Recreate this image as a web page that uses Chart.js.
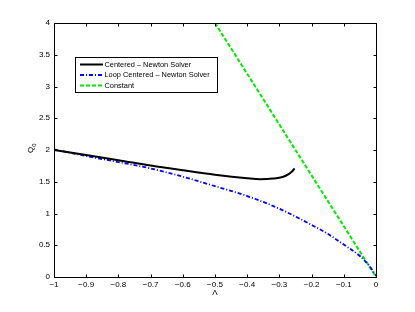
<!DOCTYPE html>
<html>
<head>
<meta charset="utf-8">
<script src="https://cdn.jsdelivr.net/npm/chart.js@4"></script>
<style>
  html, body { margin: 0; padding: 0; background: #fff; }
  #wrap { width: 415px; height: 312px; }
</style>
</head>
<body>
<div id="wrap"><canvas id="c" width="415" height="312"></canvas></div>
<script>
// values
const lambdaCentered = [-1, -0.9, -0.8, -0.7, -0.6, -0.5, -0.4, -0.36, -0.32, -0.29, -0.27, -0.26, -0.253];
const qCentered      = [2.0, 1.92, 1.84, 1.755, 1.68, 1.61, 1.555, 1.54, 1.55, 1.575, 1.625, 1.665, 1.71];

const lambdaLoop = [-1, -0.9, -0.8, -0.7, -0.6, -0.5, -0.4, -0.3, -0.2, -0.15, -0.1, -0.05, -0.02, 0];
const qLoop      = [2.01, 1.905, 1.81, 1.71, 1.58, 1.43, 1.275, 1.075, 0.82, 0.68, 0.51, 0.33, 0.17, 0.02];

const lambdaConst = [-0.5, 0];
const qConst      = [4, 0];

const seriesNames = ['Centered \u2013 Newton Solver', 'Loop Centered \u2013 Newton Solver', 'Constant'];

const FONT = 'Liberation Sans, Arial, sans-serif';

function pts(xs, ys) {
  return xs.map((x, i) => ({ x: x, y: ys[i] }));
}

function fmt(v) {
  const r = Math.round(v * 10) / 10;
  return String(r).replace('-', '\u2212');
}

// inward ticks on all four sides, box, legend and axis titles (matlab look)
const matlabAxes = {
  id: 'matlabAxes',
  afterDraw(chart) {
    const ctx = chart.ctx;
    const a = chart.chartArea;
    const xs = chart.scales.x;
    const ys = chart.scales.y;
    const L = Math.round(a.left) + 0.5, R = Math.round(a.right) + 0.5;
    const T = Math.round(a.top) + 0.5, B = Math.round(a.bottom) + 0.5;
    const tl = 3;

    ctx.save();
    ctx.strokeStyle = '#000';
    ctx.lineWidth = 1;
    ctx.beginPath();
    xs.ticks.forEach(t => {
      const p = Math.round(xs.getPixelForValue(t.value)) + 0.5;
      ctx.moveTo(p, B); ctx.lineTo(p, B - tl);
      ctx.moveTo(p, T); ctx.lineTo(p, T + tl);
    });
    ys.ticks.forEach(t => {
      const p = Math.round(ys.getPixelForValue(t.value)) + 0.5;
      ctx.moveTo(L, p); ctx.lineTo(L + tl, p);
      ctx.moveTo(R, p); ctx.lineTo(R - tl, p);
    });
    ctx.stroke();
    ctx.strokeRect(L, T, R - L, B - T);

    // legend
    const lx = 75.5, ly = 57.5, lw = 142, lh = 35;
    ctx.fillStyle = '#fff';
    ctx.fillRect(lx, ly, lw, lh);
    ctx.strokeStyle = '#000';
    ctx.strokeRect(lx, ly, lw, lh);
    const rows = [64.5, 75, 85.5];
    chart.data.datasets.forEach((ds, i) => {
      ctx.save();
      ctx.strokeStyle = ds.borderColor;
      ctx.lineWidth = ds.borderWidth;
      ctx.setLineDash(ds.borderDash || []);
      ctx.beginPath();
      ctx.moveTo(80, rows[i]);
      ctx.lineTo(103, rows[i]);
      ctx.stroke();
      ctx.restore();
      ctx.fillStyle = '#000';
      ctx.font = '7.4px ' + FONT;
      ctx.textBaseline = 'middle';
      ctx.textAlign = 'left';
      ctx.fillText(ds.label, 104.5, rows[i]);
    });

    // axis titles
    ctx.fillStyle = '#000';
    ctx.font = '8px ' + FONT;
    ctx.textAlign = 'center';
    ctx.textBaseline = 'middle';
    ctx.fillText('\u039B', (a.left + a.right) / 2, 293);

    ctx.translate(31, 150);
    ctx.rotate(-Math.PI / 2);
    ctx.fillText('Q', 0, 0);
    ctx.font = '6px ' + FONT;
    ctx.fillText('0', 5, 3);
    ctx.restore();
  }
};

new Chart(document.getElementById('c'), {
  type: 'line',
  data: {
    datasets: [
      {
        label: seriesNames[0],
        data: pts(lambdaCentered, qCentered),
        borderColor: '#000000',
        borderWidth: 2,
        pointRadius: 0,
        cubicInterpolationMode: 'monotone',
        fill: false,
      },
      {
        label: seriesNames[1],
        data: pts(lambdaLoop, qLoop),
        borderColor: '#0000ff',
        borderWidth: 1.8,
        borderDash: [4, 2, 1, 2],
        pointRadius: 0,
        cubicInterpolationMode: 'monotone',
        fill: false,
      },
      {
        label: seriesNames[2],
        data: pts(lambdaConst, qConst),
        borderColor: '#00e600',
        borderWidth: 2,
        borderDash: [4, 2],
        pointRadius: 0,
        fill: false,
      }
    ]
  },
  options: {
    responsive: false,
    animation: false,
    devicePixelRatio: 1,
    layout: { padding: { left: 0, right: 39, top: 23, bottom: 0 } },
    plugins: {
      legend: { display: false },
      tooltip: { enabled: false }
    },
    scales: {
      x: {
        type: 'linear',
        min: -1,
        max: 0,
        grid: { display: false, drawTicks: false },
        border: { display: false },
        ticks: {
          stepSize: 0.1,
          color: '#000',
          padding: 3,
          maxRotation: 0,
          autoSkip: false,
          font: { family: FONT, size: 8 },
          callback: v => fmt(v)
        },
        afterFit: s => { s.height = 35; }
      },
      y: {
        type: 'linear',
        min: 0,
        max: 4,
        grid: { display: false, drawTicks: false },
        border: { display: false },
        ticks: {
          stepSize: 0.5,
          color: '#000',
          padding: 4,
          autoSkip: false,
          font: { family: FONT, size: 8 },
          callback: v => fmt(v)
        },
        afterFit: s => { s.width = 54; }
      }
    }
  },
  plugins: [matlabAxes]
});
</script>
</body>
</html>
